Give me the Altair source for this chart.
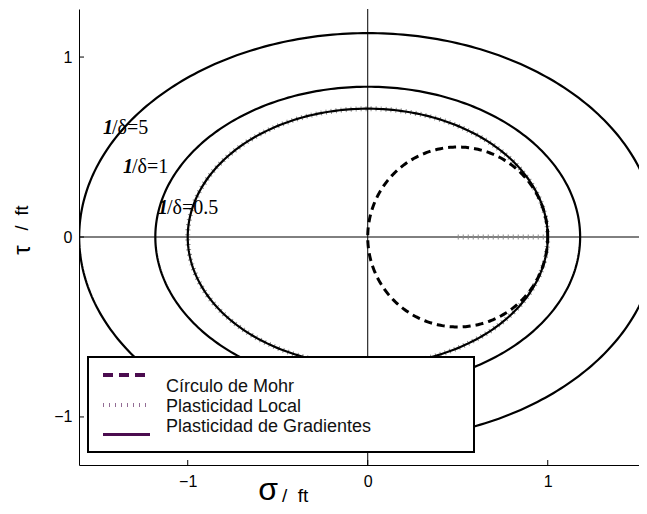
import altair as alt
import numpy as np
import pandas as pd

# ---- data ----
x_domain = [-1.604, 1.507]
y_domain = [-1.267, 1.267]
tick_values = [-1, 0, 1]
semi_major = [1.0, 1.18, 1.603]      # sigma half-axes of the gradient-plasticity curves
semi_minor = [0.713, 0.835, 1.133]   # tau half-axes
curve_labels = ["/δ=0.5", "/δ=1", "/δ=5"]
label_sigma = [-1.037, -1.232, -1.343]
label_tau = [0.16, 0.387, 0.604]
mohr_center = 0.5
mohr_radius = 0.5
local_axis_segment = [0.5, 1.0]
legend_labels = ["Círculo de Mohr", "Plasticidad Local", "Plasticidad de Gradientes"]

W, H = 560, 456
PURPLE = "#4b0c4f"
UNIT = "/\u00a0\u00a0ft"

theta = np.linspace(0, 2 * np.pi, 361)
rows = []
for k, (a, b) in enumerate(zip(semi_major, semi_minor)):
    for i, tt in enumerate(theta):
        rows.append(dict(curve=k, i=i, s=a * np.cos(tt), tau=b * np.sin(tt)))
ell = pd.DataFrame(rows)

mohr = pd.DataFrame(dict(i=range(len(theta)),
                         s=mohr_center + mohr_radius * np.cos(theta),
                         tau=mohr_radius * np.sin(theta)))

local_rows = [dict(part=0, i=i, s=semi_major[0] * np.cos(tt), tau=semi_minor[0] * np.sin(tt))
              for i, tt in enumerate(theta)]
local_rows += [dict(part=1, i=0, s=local_axis_segment[0], tau=0.0),
               dict(part=1, i=1, s=local_axis_segment[1], tau=0.0)]
local = pd.DataFrame(local_rows)

xs = alt.Scale(domain=x_domain, nice=False, zero=False)
ys = alt.Scale(domain=y_domain, nice=False, zero=False)
axis_common = dict(values=tick_values, ticks=False, tickSize=0, grid=False, title=None,
                   domainColor="black", domainWidth=1, labelFont="Liberation Sans",
                   labelFontSize=16, labelColor="black", format="d")
X = alt.X("s:Q", scale=xs, axis=alt.Axis(labelPadding=8, **axis_common))
Y = alt.Y("tau:Q", scale=ys, axis=alt.Axis(labelPadding=7, **axis_common))

zero_v = alt.Chart(pd.DataFrame({"s": [0.0]})).mark_rule(color="black", strokeWidth=1).encode(x=X)
zero_h = alt.Chart(pd.DataFrame({"tau": [0.0]})).mark_rule(color="black", strokeWidth=1).encode(y=Y)

local_layer = alt.Chart(local).mark_line(color="#8a8a8a", strokeWidth=5, strokeDash=[1, 4], clip=True).encode(
    x=X, y=Y, detail="part:N", order="i:Q")
ell_layer = alt.Chart(ell).mark_line(color="black", strokeWidth=2.2, clip=True).encode(
    x=X, y=Y, detail="curve:N", order="i:Q")
mohr_layer = alt.Chart(mohr).mark_line(color="black", strokeWidth=3, strokeDash=[8, 5], clip=True).encode(
    x=X, y=Y, order="i:Q")

xt = alt.Chart(pd.DataFrame({"s": tick_values})).mark_rule(color="black", strokeWidth=1).encode(
    x=X, y=alt.value(H), y2=alt.value(H - 5))
yt = alt.Chart(pd.DataFrame({"tau": tick_values})).mark_rule(color="black", strokeWidth=1).encode(
    y=Y, x=alt.value(0), x2=alt.value(5))

lab_df = pd.DataFrame({"s": label_sigma, "tau": label_tau, "t": curve_labels})
lab_one = alt.Chart(lab_df).mark_text(
    text="1", font="Liberation Serif", fontSize=20, fontStyle="italic", fontWeight="bold",
    color="black", align="right", baseline="middle", dx=-13).encode(x=X, y=Y)
lab = alt.Chart(lab_df).mark_text(
    font="Liberation Serif", fontSize=20, color="black", align="left", baseline="middle", dx=-14).encode(
    x=X, y=Y, text="t:N")

# legend box
leg_box = alt.Chart(pd.DataFrame({"a": [0]})).mark_rect(fill="white", stroke="black", strokeWidth=2).encode(
    x=alt.value(9), x2=alt.value(395), y=alt.value(348), y2=alt.value(443))
leg_dash = alt.Chart(pd.DataFrame({"a": [0]})).mark_rule(color=PURPLE, strokeWidth=4, strokeDash=[10, 6]).encode(
    x=alt.value(24), x2=alt.value(66), y=alt.value(366))
leg_dot = alt.Chart(pd.DataFrame({"a": [0]})).mark_rule(color=PURPLE, strokeWidth=4, strokeDash=[1, 5], opacity=0.6).encode(
    x=alt.value(24), x2=alt.value(68), y=alt.value(396))
leg_solid = alt.Chart(pd.DataFrame({"a": [0]})).mark_rule(color=PURPLE, strokeWidth=3).encode(
    x=alt.value(24), x2=alt.value(71), y=alt.value(425.5))
leg_text = alt.Chart(pd.DataFrame({"t": legend_labels, "yy": [383, 403, 423]})).mark_text(
    font="Liberation Sans", fontSize=18, color="#111111", align="left", baseline="alphabetic").encode(
    x=alt.value(87), y=alt.Y("yy:Q", scale=None, axis=None), text="t:N")

# axis titles
tau_big = alt.Chart(pd.DataFrame({"a": [0]})).mark_text(
    text="τ", font="Liberation Sans", fontSize=24, angle=270, align="center", baseline="middle", color="black").encode(
    x=alt.value(-56), y=alt.value(241))
tau_small = alt.Chart(pd.DataFrame({"a": [0]})).mark_text(
    text=UNIT, font="Liberation Sans", fontSize=18, angle=270, align="center", baseline="middle", color="black").encode(
    x=alt.value(-56), y=alt.value(209))
sig_big = alt.Chart(pd.DataFrame({"a": [0]})).mark_text(
    text="σ", font="Liberation Sans", fontSize=32, align="center", baseline="alphabetic", color="black").encode(
    x=alt.value(189), y=alt.value(491))
sig_small = alt.Chart(pd.DataFrame({"a": [0]})).mark_text(
    text=UNIT, font="Liberation Sans", fontSize=19, align="left", baseline="alphabetic", color="black").encode(
    x=alt.value(203), y=alt.value(493))

chart = alt.layer(
    zero_v, zero_h, local_layer, ell_layer, mohr_layer, xt, yt, lab_one, lab,
    leg_box, leg_dash, leg_dot, leg_solid, leg_text,
    tau_big, tau_small, sig_big, sig_small,
).properties(
    width=W, height=H,
    autosize=alt.AutoSizeParams(type="none"),
    padding={"left": 71, "top": 1, "right": 0, "bottom": 41},
).configure_view(stroke="transparent")

chart.save("out.html", embed_options={"renderer": "svg", "actions": False})
